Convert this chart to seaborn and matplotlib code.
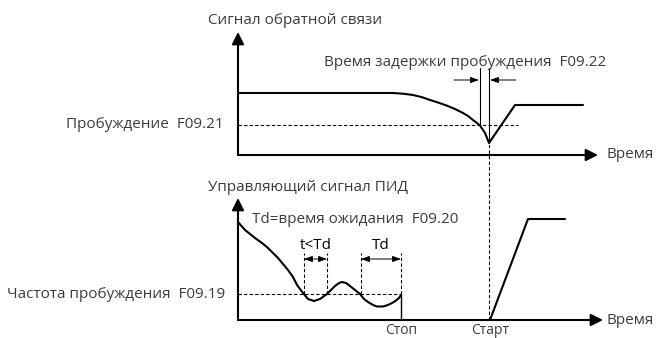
import matplotlib
matplotlib.use('Agg')
import matplotlib.pyplot as plt
import seaborn as sns
import pandas as pd

sns.set_theme(style='white')
plt.rcParams['font.family'] = ['Open Sans', 'DejaVu Sans']

# ---------------- data (time units, signal units) ----------------
# Feedback signal (top panel)
fb_time = [0, 155, 165, 175, 184, 192, 200, 209, 217, 225, 230, 235, 239, 242, 247, 251, 264, 277, 345]
fb_value = [62, 62, 61.3, 60, 57.8, 55, 52.5, 49.3, 46, 42, 39, 35, 32, 29.5, 22, 12, 31, 50, 50]
wake_level = 30          # F09.21
wake_line_end = 280
delay_start, delay_end = 242, 251   # F09.22

# PID output (bottom panel)
pid_time = [0, 7, 12, 17, 24, 30, 35, 40, 45, 50, 55, 59, 62, 65, 70, 76, 82, 89, 93, 97, 101, 104,
            108, 112, 117, 122, 126, 130, 135, 139, 145, 150, 155, 158, 161, 163]
pid_value = [98, 90, 86, 82, 77, 72, 67, 62, 56, 50, 43, 35, 31, 27, 21, 19, 21, 26, 30, 34, 37, 38,
             37, 34, 30, 26, 21, 18, 15, 13.5, 13.5, 15, 17.5, 19.5, 22, 25]
run_time = [252, 290, 327]
run_value = [0, 101, 101]
wake_freq = 26           # F09.19
stop_time, start_time = 163, 252
short_win = (66, 89)     # t<Td
td_win = (123, 163)      # Td

TXT = '#3c3c3c'
FS = 11

fig = plt.figure(figsize=(6.58, 3.38), dpi=100)
W, H = 658, 338
ax1 = fig.add_axes([238 / W, (H - 155) / H, 360 / W, 123 / H])
ax2 = fig.add_axes([238 / W, (H - 320) / H, 365 / W, 122 / H])
ax1.set_xlim(0, 360); ax1.set_ylim(0, 123)
ax2.set_xlim(0, 365); ax2.set_ylim(0, 122)
for ax in (ax1, ax2):
    ax.set_axis_off()

big = dict(arrowstyle='-|>,head_length=0.6,head_width=0.3', mutation_scale=12,
           color='black', lw=1.5, shrinkA=0, shrinkB=0)
small = dict(arrowstyle='-|>,head_length=0.5,head_width=0.18', mutation_scale=10,
             color='black', lw=0.7, shrinkA=0, shrinkB=0)
dbl = dict(arrowstyle='<|-|>,head_length=0.5,head_width=0.18', mutation_scale=10,
           color='black', lw=0.7, shrinkA=0, shrinkB=0)

# axes arrows
ax1.annotate('', xy=(360, 0), xytext=(0, 0), arrowprops=big, annotation_clip=False)
ax1.annotate('', xy=(0, 123), xytext=(0, 0), arrowprops=big, annotation_clip=False)
ax2.annotate('', xy=(365, 0), xytext=(0, 0), arrowprops=big, annotation_clip=False)
ax2.annotate('', xy=(0, 122), xytext=(0, 0), arrowprops=big, annotation_clip=False)

# ---------- top panel ----------
df_fb = pd.DataFrame({'t': fb_time, 'v': fb_value})
sns.lineplot(data=df_fb, x='t', y='v', ax=ax1, color='black', lw=1.5, sort=False,
             estimator=None, legend=False)
ax1.plot([0, wake_line_end], [wake_level, wake_level], color='black', lw=0.8, ls=(0, (3, 2)))
ax1.plot([delay_start, delay_start], [wake_level, 87], color='black', lw=0.8)
ax1.plot([delay_end, delay_end], [12, 87], color='black', lw=0.8)
ax1.annotate('', xy=(delay_start - 1, 75), xytext=(216, 75), arrowprops=small)
ax1.annotate('', xy=(delay_end + 1, 75), xytext=(278, 75), arrowprops=small)

ax1.text(-30, 131, 'Сигнал обратной связи', color=TXT, fontsize=FS, va='baseline', ha='left')
ax1.text(86, 89, 'Время задержки пробуждения  F09.22', color=TXT, fontsize=FS,
         va='baseline', ha='left')
ax1.text(-14, wake_level, 'Пробуждение  F09.21', color=TXT, fontsize=FS, va='center', ha='right')
ax1.text(368, 0, 'Время', color=TXT, fontsize=FS, va='center', ha='left')

# ---------- bottom panel ----------
df_pid = pd.DataFrame({'t': pid_time, 'v': pid_value})
sns.lineplot(data=df_pid, x='t', y='v', ax=ax2, color='black', lw=1.5, sort=False,
             estimator=None, legend=False)
df_run = pd.DataFrame({'t': run_time, 'v': run_value})
sns.lineplot(data=df_run, x='t', y='v', ax=ax2, color='black', lw=1.5, sort=False,
             estimator=None, legend=False)
ax2.plot([stop_time, stop_time], [0, pid_value[-1]], color='black', lw=1.0)
ax2.plot([0, stop_time], [wake_freq, wake_freq], color='black', lw=0.8, ls=(0, (3, 2)))
# dashed link from the feedback dip to the restart
ax2.plot([start_time - 1, start_time - 1], [0, 177], color='black', lw=0.8,
         ls=(0, (3, 2)), clip_on=False)
for a, b in (short_win, td_win):
    for x in (a, b):
        ax2.plot([x, x], [wake_freq, 67], color='black', lw=0.8, ls=(0, (3, 2)))
    ax2.annotate('', xy=(b, 61), xytext=(a, 61), arrowprops=dbl)

ax2.text(-30, 129, 'Управляющий сигнал ПИД', color=TXT, fontsize=FS, va='baseline', ha='left')
ax2.text(14, 97, 'Td=время ожидания  F09.20', color=TXT, fontsize=FS, va='baseline', ha='left')
ax2.text(sum(short_win) / 2, 71, 't<Td', color='black', fontsize=FS, va='baseline', ha='center')
ax2.text(sum(td_win) / 2, 71, 'Td', color='black', fontsize=FS, va='baseline', ha='center')
ax2.text(-13, wake_freq, 'Частота пробуждения  F09.19', color=TXT, fontsize=FS,
         va='center', ha='right')
ax2.text(stop_time, -3.5, 'Стоп', color=TXT, fontsize=10, va='top', ha='center')
ax2.text(start_time, -3.5, 'Старт', color=TXT, fontsize=10, va='top', ha='center')
ax2.text(369, 0, 'Время', color=TXT, fontsize=FS, va='center', ha='left')

fig.savefig('out.png', dpi=100)
